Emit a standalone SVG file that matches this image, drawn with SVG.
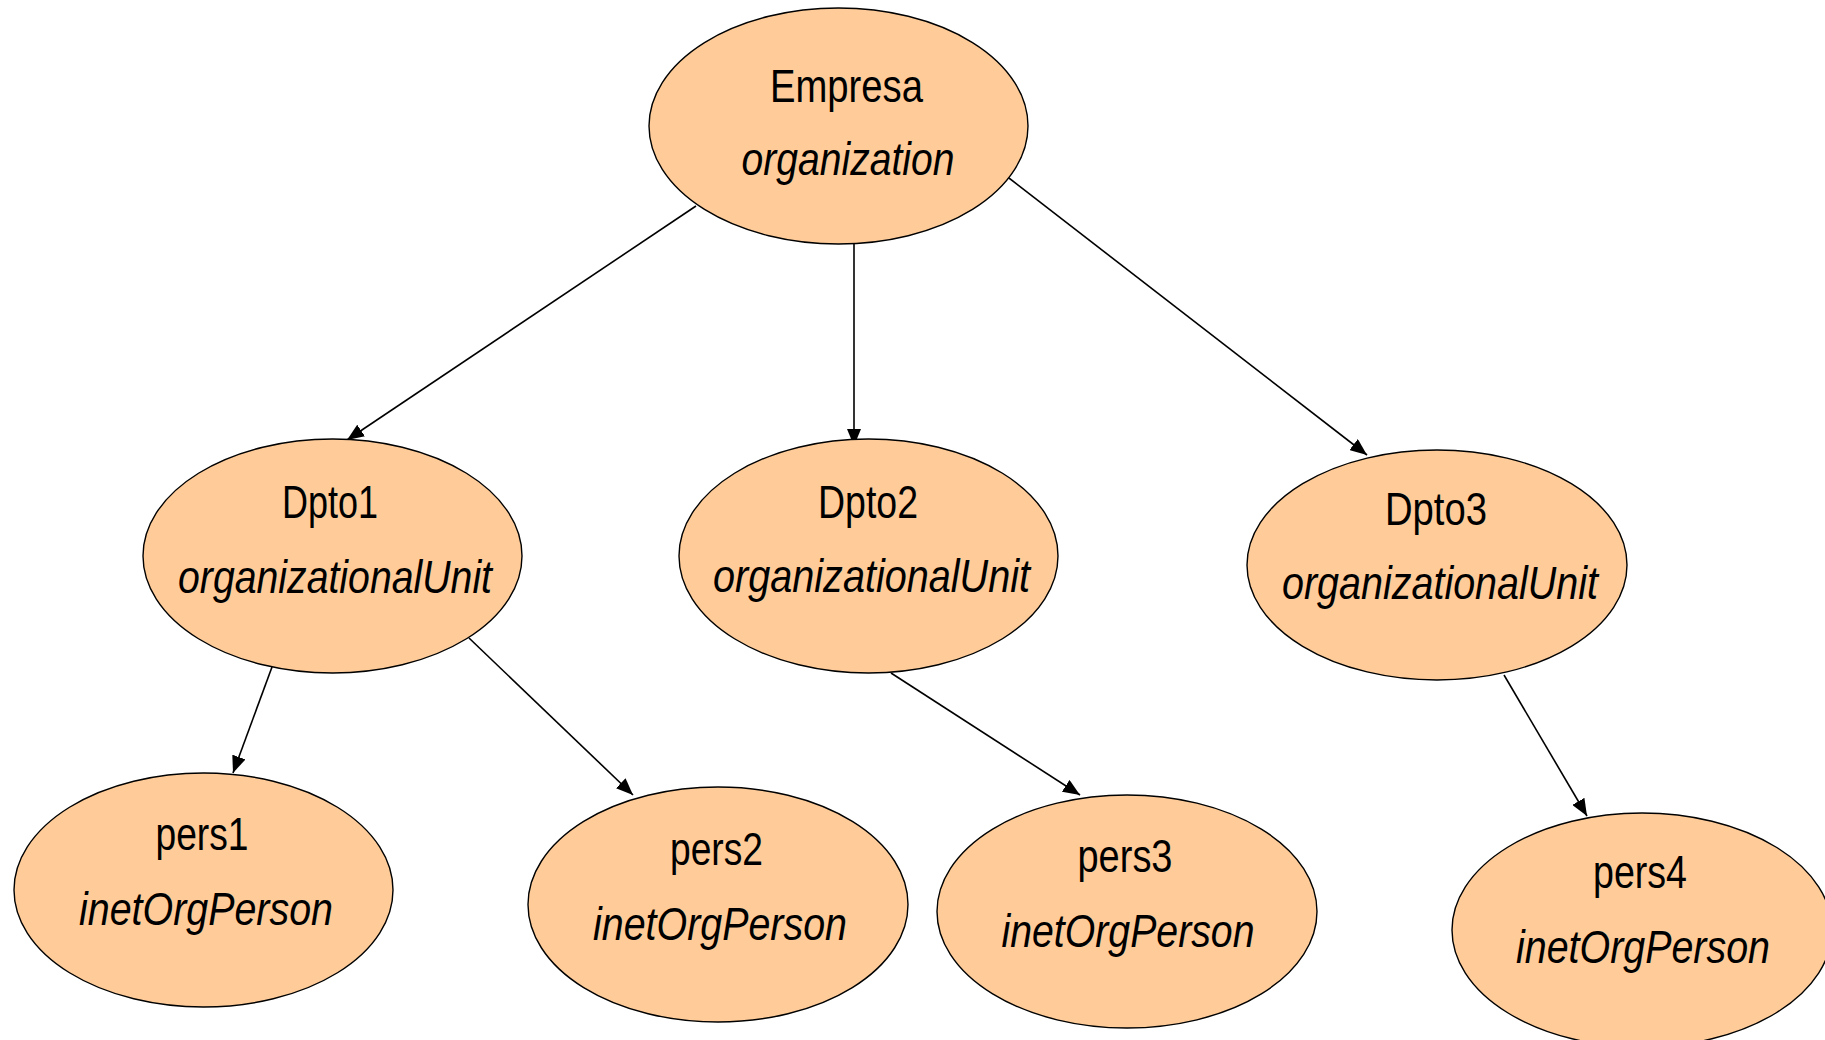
<svg xmlns="http://www.w3.org/2000/svg" width="1825" height="1040" viewBox="0 0 1825 1040">
<style>
.node ellipse{fill:#FFCC99;stroke:#000;stroke-width:1.4}
.node text{font-family:"Liberation Sans Narrow","Liberation Sans",Arial,sans-serif;font-size:46px;fill:#000;text-anchor:middle}
.node text.cls{font-style:italic}
.edges line{stroke:#000;stroke-width:1.6;fill:none}
</style>
<defs>
<marker id="arr" markerUnits="userSpaceOnUse" markerWidth="18" markerHeight="14" refX="17" refY="7" orient="auto">
<path d="M0,0 L17,7 L0,14 z" fill="#000"/>
</marker>
</defs>
<rect width="1825" height="1040" fill="#fff"/>
<g class="edges">
<line x1="696" y1="206" x2="347" y2="440" marker-end="url(#arr)"/>
<line x1="854" y1="244" x2="854" y2="446" marker-end="url(#arr)"/>
<line x1="1005" y1="175" x2="1367" y2="455" marker-end="url(#arr)"/>
<line x1="272" y1="667" x2="233" y2="773" marker-end="url(#arr)"/>
<line x1="469" y1="638" x2="633" y2="795" marker-end="url(#arr)"/>
<line x1="891" y1="673" x2="1080" y2="795" marker-end="url(#arr)"/>
<line x1="1504" y1="675" x2="1587" y2="816" marker-end="url(#arr)"/>
</g>
<g id="empresa" class="node">
<ellipse cx="838.5" cy="126" rx="189.5" ry="118"/>
<text x="846.5" y="102" textLength="153" lengthAdjust="spacingAndGlyphs">Empresa</text>
<text class="cls" x="848" y="175" textLength="213" lengthAdjust="spacingAndGlyphs">organization</text>
</g>
<g id="dpto1" class="node">
<ellipse cx="332.5" cy="556" rx="189.5" ry="117"/>
<text x="330" y="518" textLength="96" lengthAdjust="spacingAndGlyphs">Dpto1</text>
<text class="cls" x="335" y="593" textLength="314" lengthAdjust="spacingAndGlyphs">organizationalUnit</text>
</g>
<g id="dpto2" class="node">
<ellipse cx="868.5" cy="556" rx="189.5" ry="117"/>
<text x="868" y="518" textLength="100" lengthAdjust="spacingAndGlyphs">Dpto2</text>
<text class="cls" x="871.5" y="592" textLength="317" lengthAdjust="spacingAndGlyphs">organizationalUnit</text>
</g>
<g id="dpto3" class="node">
<ellipse cx="1437" cy="565" rx="190" ry="115"/>
<text x="1436" y="525" textLength="102" lengthAdjust="spacingAndGlyphs">Dpto3</text>
<text class="cls" x="1440" y="599" textLength="316" lengthAdjust="spacingAndGlyphs">organizationalUnit</text>
</g>
<g id="pers1" class="node">
<ellipse cx="203.5" cy="890" rx="189.5" ry="117"/>
<text x="202" y="850" textLength="93" lengthAdjust="spacingAndGlyphs">pers1</text>
<text class="cls" x="206" y="925" textLength="254" lengthAdjust="spacingAndGlyphs">inetOrgPerson</text>
</g>
<g id="pers2" class="node">
<ellipse cx="718" cy="904.5" rx="190" ry="117.5"/>
<text x="716.5" y="865" textLength="93" lengthAdjust="spacingAndGlyphs">pers2</text>
<text class="cls" x="720" y="940" textLength="254" lengthAdjust="spacingAndGlyphs">inetOrgPerson</text>
</g>
<g id="pers3" class="node">
<ellipse cx="1127" cy="911.5" rx="190" ry="116.5"/>
<text x="1125" y="872" textLength="95" lengthAdjust="spacingAndGlyphs">pers3</text>
<text class="cls" x="1128" y="947" textLength="253" lengthAdjust="spacingAndGlyphs">inetOrgPerson</text>
</g>
<g id="pers4" class="node">
<ellipse cx="1642" cy="930" rx="190" ry="117"/>
<text x="1640" y="888" textLength="94" lengthAdjust="spacingAndGlyphs">pers4</text>
<text class="cls" x="1643" y="963" textLength="254" lengthAdjust="spacingAndGlyphs">inetOrgPerson</text>
</g>
</svg>
